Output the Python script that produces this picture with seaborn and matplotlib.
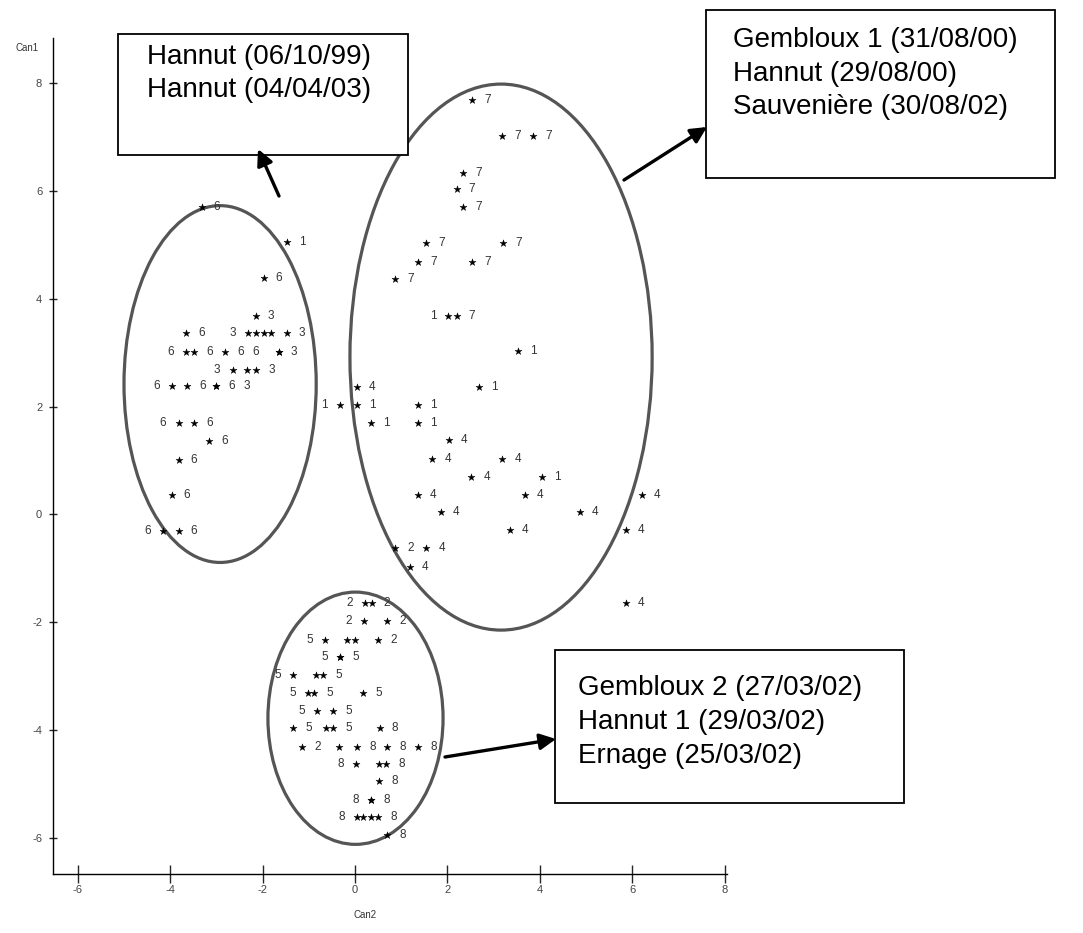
import matplotlib
matplotlib.use("Agg")
import matplotlib.pyplot as plt
from matplotlib.patches import Ellipse, Rectangle, FancyArrowPatch
import seaborn as sns
import pandas as pd

# canonical scores (Can2 on x, Can1 on y), label = group number,
# lab_off = where the group label is printed, in character slots (0 = hidden)
star_x = [-3.32, -1.48, -1.98, -2.15,
          -3.66, -2.31, -2.14, -1.98, -1.82, -1.48,
          -3.66, -3.48, -2.81, -1.65, -1.65,
          -2.65, -2.34, -2.14,
          -3.97, -3.64, -3.00, -3.00,
          -3.82, -3.48, -3.16, -3.82, -3.97, -4.15, -3.82,
          -0.32, 0.04,
          2.53, 3.19, 3.86, 2.34, 2.20, 2.34, 1.54, 3.20, 1.37, 2.53, 0.87,
          2.02, 2.20, 3.52, 0.04, 2.69, 1.37, 0.34, 1.37, 2.03,
          1.67, 3.19, 2.52, 4.04, 1.36, 3.68, 6.21, 1.86, 4.87,
          3.35, 5.86, 0.87, 1.54, 1.19, 5.86,
          0.22, 0.36, 0.20, 0.69, -0.65, -0.17, 0.00, 0.50,
          -0.32, -0.32, -1.34, -0.84, -0.69, -1.01, -0.89, 0.18,
          -0.82, -0.47, -1.34, -0.63, -0.47, 0.53,
          -1.14, -0.34, 0.04, 0.69, 1.37, 0.02, 0.52, 0.67, 0.52,
          0.35, 0.35, 0.04, 0.18, 0.34, 0.50, 0.69]
star_y = [5.71, 5.05, 4.38, 3.69,
          3.36, 3.36, 3.36, 3.36, 3.36, 3.36,
          3.02, 3.02, 3.02, 3.02, 3.02,
          2.68, 2.68, 2.68,
          2.38, 2.38, 2.38, 2.38,
          1.69, 1.69, 1.36, 1.02, 0.36, -0.30, -0.30,
          2.03, 2.03,
          7.69, 7.02, 7.02, 6.34, 6.04, 5.71, 5.04, 5.04, 4.69, 4.69, 4.36,
          3.68, 3.68, 3.03, 2.37, 2.37, 2.03, 1.70, 1.70, 1.38,
          1.03, 1.03, 0.70, 0.70, 0.36, 0.36, 0.36, 0.04, 0.04,
          -0.29, -0.29, -0.63, -0.63, -0.97, -1.64,
          -1.65, -1.65, -1.98, -1.98, -2.32, -2.32, -2.32, -2.32,
          -2.65, -2.65, -2.98, -2.98, -2.98, -3.32, -3.32, -3.32,
          -3.64, -3.64, -3.97, -3.97, -3.97, -3.97,
          -4.31, -4.31, -4.31, -4.31, -4.31, -4.63, -4.63, -4.63, -4.95,
          -5.29, -5.29, -5.61, -5.61, -5.61, -5.61, -5.95]
star_lab = ["6", "1", "6", "3",
            "6", "3", "", "", "", "3",
            "6", "6", "6", "3", "6",
            "3", "", "3",
            "6", "6", "6", "3",
            "6", "6", "6", "6", "6", "6", "6",
            "1", "1",
            "7", "7", "7", "7", "7", "7", "7", "7", "7", "7", "7",
            "1", "7", "1", "4", "1", "1", "1", "1", "4",
            "4", "4", "4", "1", "4", "4", "4", "4", "4",
            "4", "4", "2", "4", "4", "4",
            "2", "2", "2", "2", "5", "", "", "2",
            "5", "5", "5", "", "5", "5", "5", "5",
            "5", "5", "5", "", "5", "8",
            "2", "", "8", "8", "8", "8", "", "8", "8",
            "8", "8", "8", "", "", "8", "8"]
lab_off = [2, 2, 2, 2,
           2, -2, 0, 0, 0, 2,
           -2, 2, 2, 2, -3,
           -2, 0, 2,
           -2, 2, 2, 4,
           -2, 2, 2, 2, 2, -2, 2,
           -2, 2,
           2, 2, 2, 2, 2, 2, 2, 2, 2, 2, 2,
           -2, 2, 2, 2, 2, 2, 2, 2, 2,
           2, 2, 2, 2, 2, 2, 2, 2, 2,
           2, 2, 2, 2, 2, 2,
           -2, 2, -2, 2, -2, 0, 0, 2,
           -2, 2, -2, 0, 2, -2, 2, 2,
           -2, 2, 2, 0, 2, 2,
           2, 0, 2, 2, 2, -2, 0, 2, 2,
           -2, 2, -2, 0, 0, 2, 2]

x_ticks = [-6, -4, -2, 0, 2, 4, 6, 8]
y_ticks = [-6, -4, -2, 0, 2, 4, 6, 8]

# group ellipses: centre x, centre y, width, height
ell_cx = [-2.92, 3.16, 0.01]
ell_cy = [2.42, 2.92, -3.78]
ell_w = [4.16, 6.54, 3.79]
ell_h = [6.62, 10.13, 4.68]

box_text = [["Hannut (06/10/99)", "Hannut (04/04/03)"],
            ["Gembloux 1 (31/08/00)", "Hannut (29/08/00)", "Sauvenière (30/08/02)"],
            ["Gembloux 2 (27/03/02)", "Hannut 1 (29/03/02)", "Ernage (25/03/02)"]]

W, H = 1083, 933

sns.set_style("white")
plt.rcParams["font.family"] = ["Liberation Sans", "DejaVu Sans"]
plt.rcParams["axes.unicode_minus"] = False

df = pd.DataFrame({"x": star_x, "y": star_y, "lab": star_lab, "off": lab_off})

fig = plt.figure(figsize=(W / 100, H / 100), dpi=100)
ax = fig.add_axes([53.3 / W, 1 - 874 / H, (727 - 53.3) / W, (874 - 38) / H])

sns.scatterplot(data=df, x="x", y="y", marker="*", s=28, color="black",
                edgecolor="black", linewidth=0.3, ax=ax, zorder=3)

slot = 1 / 6
for _, r in df.iterrows():
    if r["off"] != 0:
        ax.text(r["x"] + r["off"] * slot, r["y"], r["lab"], fontsize=8.5,
                color="#333333", ha="center", va="center", zorder=3)

for cx, cy, w, h in zip(ell_cx, ell_cy, ell_w, ell_h):
    ax.add_patch(Ellipse((cx, cy), w, h, fill=False, edgecolor="#555555",
                         linewidth=2.3, zorder=2))

ax.set_xlim(-6.53, 8.05)
ax.set_ylim(-6.67, 8.84)
ax.set_xticks(x_ticks)
ax.set_yticks(y_ticks)
ax.set_xlabel("")
ax.set_ylabel("")
for s in ["top", "right"]:
    ax.spines[s].set_visible(False)
for s in ["left", "bottom"]:
    ax.spines[s].set_color("black")
    ax.spines[s].set_linewidth(1.0)
ax.tick_params(axis="x", direction="inout", length=13, width=1, pad=1.5,
               labelsize=8, labelcolor="#444444", bottom=True)
ax.tick_params(axis="y", direction="inout", length=6, width=1, pad=5,
               labelsize=8, labelcolor="#444444", left=True)

fig.text(27 / W, 1 - 48 / H, "Can1", fontsize=7, color="#333333",
         ha="center", va="center")
fig.text(365 / W, 1 - 915 / H, "Can2", fontsize=7, color="#333333",
         ha="center", va="center")


def fp(px, py):
    return (px / W, 1 - py / H)


boxes = [(118, 34, 408, 155), (706, 10, 1055, 178), (555, 650, 904, 803)]
text_x = [147, 733, 578]
text_y = [[57, 90], [40, 74, 107], [688, 722, 756]]
for (x0, y0, x1, y1), lines, tx, tys in zip(boxes, box_text, text_x, text_y):
    fig.patches.append(Rectangle(fp(x0, y1), (x1 - x0) / W, (y1 - y0) / H,
                                 transform=fig.transFigure, facecolor="white",
                                 edgecolor="black", linewidth=1.3, zorder=5))
    for line, ty in zip(lines, tys):
        fig.text(tx / W, 1 - ty / H, line, fontsize=20, color="black",
                 ha="left", va="center", zorder=6)

arrows = [((279, 196), (258, 149)), ((624, 180), (707, 127)), ((445, 757), (556, 739))]
for tail, head in arrows:
    fig.patches.append(FancyArrowPatch(fp(*tail), fp(*head), transform=fig.transFigure,
                                       arrowstyle="-|>", mutation_scale=24,
                                       color="black", linewidth=2.4, zorder=6,
                                       shrinkA=0, shrinkB=0))

fig.savefig("out.png", dpi=100)
